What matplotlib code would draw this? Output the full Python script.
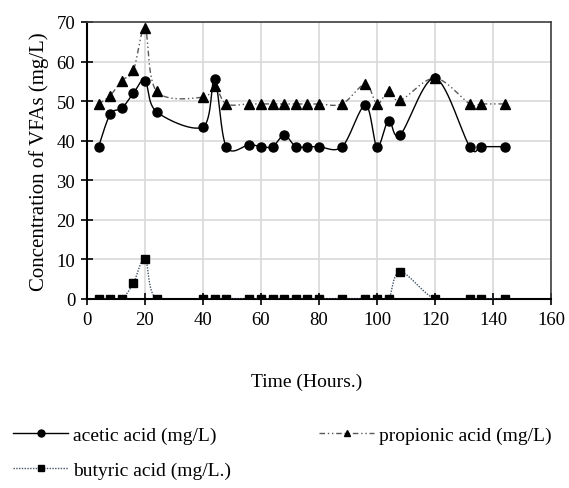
import numpy as np
import matplotlib
matplotlib.use("Agg")
import matplotlib.pyplot as plt
from matplotlib import rcParams
rcParams['font.family'] = 'serif'
rcParams['font.serif'] = ['Liberation Serif', 'DejaVu Serif']

# sampling times (hours)
hours = [4, 8, 12, 16, 20, 24, 40, 44, 48, 56, 60, 64, 68, 72, 76, 80,
         88, 96, 100, 104, 108, 120, 132, 136, 144]
acetic = [38.5, 46.7, 48.2, 52.0, 55.2, 47.3, 43.5, 55.5, 38.5, 39.0, 38.5, 38.5, 41.4, 38.5, 38.5, 38.5,
          38.5, 49.0, 38.5, 45.1, 41.5, 55.8, 38.5, 38.5, 38.5]
propionic = [49.3, 51.4, 55.2, 57.8, 68.4, 52.5, 51.0, 53.8, 49.3, 49.3, 49.3, 49.3, 49.3, 49.3, 49.3, 49.3,
             49.3, 54.3, 49.3, 52.6, 50.2, 55.8, 49.3, 49.3, 49.3]
butyric = [0, 0, 0, 4.0, 10.2, 0, 0, 0, 0, 0, 0, 0, 0, 0, 0, 0,
           0, 0, 0, 0, 6.9, 0, 0, 0, 0]


def smooth(x, y, n=30):
    # Excel-like smoothed line (Catmull-Rom through the points)
    x = np.asarray(x, float)
    y = np.asarray(y, float)
    px = np.concatenate([[x[0]], x, [x[-1]]])
    py = np.concatenate([[y[0]], y, [y[-1]]])
    t = np.linspace(0, 1, n)
    xs, ys = [], []
    for i in range(1, len(px) - 2):
        p0 = np.array([px[i], py[i]])
        p3 = np.array([px[i + 1], py[i + 1]])
        p1 = p0 + (np.array([px[i + 1], py[i + 1]]) - np.array([px[i - 1], py[i - 1]])) / 6
        p2 = p3 - (np.array([px[i + 2], py[i + 2]]) - np.array([px[i], py[i]])) / 6
        b = ((1 - t) ** 3)[:, None] * p0 + (3 * (1 - t) ** 2 * t)[:, None] * p1 \
            + (3 * (1 - t) * t ** 2)[:, None] * p2 + (t ** 3)[:, None] * p3
        xs.append(b[:, 0])
        ys.append(b[:, 1])
    return np.concatenate(xs), np.concatenate(ys)


fig = plt.figure(figsize=(5.69, 4.89), dpi=100)
ax = fig.add_axes([87 / 569, 1 - 300 / 489, 464 / 569, 277 / 489])

fs = 14
gray_line = '#595959'
blue_line = '#44546a'

sx, sy = smooth(hours, propionic)
ax.plot(sx, sy, color=gray_line, lw=1, dashes=(4, 2, 1, 2, 1, 2), zorder=3)
ax.plot(hours, propionic, ls='none', marker='^', ms=6.5, color='black', zorder=4)

sx, sy = smooth(hours, butyric)
ax.plot(sx, sy, color=blue_line, lw=1, ls=(0, (1, 1)), zorder=3)
ax.plot(hours, butyric, ls='none', marker='s', ms=6, color='black', zorder=4)

sx, sy = smooth(hours, acetic)
ax.plot(sx, sy, color='black', lw=1, zorder=3)
ax.plot(hours, acetic, ls='none', marker='o', ms=6.5, color='black', zorder=4)

ax.set_xlim(0, 160)
ax.set_ylim(0, 70)
ax.set_xticks(range(0, 161, 20))
ax.set_yticks(range(0, 71, 10))
ax.grid(True, color='#d9d9d9', lw=1.2)
ax.set_axisbelow(True)
ax.tick_params(direction='inout', length=9, width=1.2, labelsize=13.5, pad=4)
for s in ['left', 'bottom']:
    ax.spines[s].set_linewidth(1.5)
    ax.spines[s].set_color('black')
for s in ['top', 'right']:
    ax.spines[s].set_linewidth(1.2)
    ax.spines[s].set_color('#404040')

ax.set_ylabel('Concentration of VFAs (mg/L)', fontsize=15, labelpad=5)
fig.text(307 / 569, 1 - 382 / 489, 'Time (Hours.)', fontsize=fs, ha='center', va='center')

h_a = plt.Line2D([], [], color='black', lw=1, marker='o', ms=5)
h_p = plt.Line2D([], [], color=gray_line, lw=1, dashes=(4, 2, 1, 2, 1, 2), marker='^', ms=5,
                 markerfacecolor='black', markeredgecolor='black')
h_b = plt.Line2D([], [], color=blue_line, lw=1, ls=(0, (1, 1)), marker='s', ms=5,
                 markerfacecolor='black', markeredgecolor='black')
fig.legend([h_a, h_b, h_p],
           ['acetic acid (mg/L)', 'butyric acid (mg/L.)', 'propionic acid (mg/L)'],
           ncol=2, loc='upper left', bbox_to_anchor=(7 / 569, 1 - 421 / 489),
           frameon=False, fontsize=fs, handlelength=2.85, handletextpad=0.26,
           columnspacing=4.5, labelspacing=0.9, borderaxespad=0, borderpad=0.3)

fig.savefig('out.png', dpi=100)
